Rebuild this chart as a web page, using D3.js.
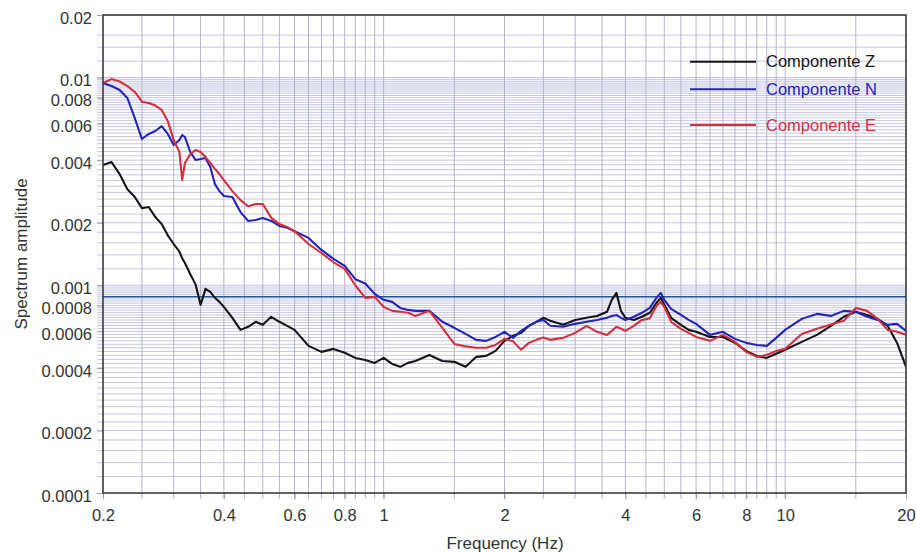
<!DOCTYPE html>
<html>
<head>
<meta charset="utf-8">
<script src="https://cdn.jsdelivr.net/npm/d3@7"></script>
<style>
  body { margin: 0; background: #fff; }
  text { font-family: "Liberation Sans", Arial, Helvetica, sans-serif; }
</style>
</head>
<body>
<svg id="chart" width="916" height="553"></svg>
<script>
// Frequencies (Hz) shared by the three components
const frequency = [0.2,0.21,0.22,0.23,0.24,0.25,0.26,0.27,0.28,0.29,0.3,0.31,0.315,0.32,0.33,0.34,0.35,0.36,0.37,0.38,0.39,0.4,
  0.42,0.44,0.46,0.48,0.5,0.525,0.55,0.575,0.6,0.65,0.7,0.75,0.8,0.85,0.9,0.95,1.0,1.05,1.1,1.15,1.2,
  1.3,1.4,1.5,1.6,1.7,1.8,1.9,2.0,2.1,2.2,2.3,2.4,2.5,2.6,2.8,3.0,3.2,3.4,3.6,3.7,3.8,3.9,4.0,
  4.2,4.4,4.6,4.8,4.9,5.0,5.2,5.5,5.75,6.0,6.5,7,7.5,8,8.5,9,9.5,10,11,12,13,14,15,16,17,18,19,20];

// Spectrum amplitude, vertical component
const componenteZ = [0.00379,0.00392,0.00343,0.00290,0.00266,0.00235,0.00238,0.00213,0.00197,0.00174,0.00158,0.00145,0.00135,0.00128,0.00113,0.00101,0.000805,0.000961,0.000929,0.00087,0.000832,0.000787,
  0.000697,0.00061,0.000631,0.000667,0.000645,0.000705,0.000667,0.000638,0.00061,0.000511,0.000478,0.000494,0.000473,0.000447,0.000437,0.000423,0.000447,0.000418,0.000405,0.000423,0.000432,
  0.000462,0.000432,0.000428,0.000405,0.000452,0.000457,0.000483,0.00054,0.000571,0.00059,0.000638,0.000667,0.000697,0.000674,0.000645,0.000681,0.000697,0.000712,0.000745,0.000851,0.000919,0.000753,0.000697,
  0.000681,0.000705,0.000737,0.000832,0.00087,0.000805,0.000697,0.000645,0.00061,0.000597,0.000564,0.000564,0.000528,0.000483,0.000457,0.000447,0.000468,0.000489,0.000534,0.000577,0.000638,0.000705,0.000745,0.00072,0.000689,0.000638,0.000528,0.000405];

// Spectrum amplitude, north component
const componenteN = [0.00941,0.0091,0.00871,0.00797,0.00638,0.00506,0.00535,0.00553,0.00584,0.00535,0.00473,0.005,0.00529,0.00517,0.00438,0.00401,0.00405,0.0041,0.00371,0.00307,0.00284,0.00269,
  0.00266,0.00225,0.00204,0.00206,0.00211,0.00204,0.00193,0.00189,0.00182,0.00169,0.00148,0.00134,0.00124,0.00107,0.00102,0.000909,0.000851,0.000832,0.000778,0.000761,0.000753,
  0.000753,0.000667,0.000624,0.000583,0.000546,0.00054,0.000564,0.000597,0.000558,0.000603,0.000638,0.000667,0.000681,0.000638,0.000631,0.000652,0.000667,0.000681,0.000697,0.000712,0.00072,0.000697,0.000681,
  0.000705,0.000737,0.000778,0.000879,0.000919,0.000851,0.00077,0.00072,0.000681,0.000652,0.000577,0.000597,0.000552,0.000528,0.000516,0.000511,0.000558,0.00061,0.000689,0.000728,0.000712,0.000753,0.000745,0.000705,0.000681,0.000645,0.000652,0.000603];

// Spectrum amplitude, east component
const componenteE = [0.00941,0.00983,0.00957,0.0091,0.00852,0.00765,0.00754,0.00733,0.00698,0.00617,0.005,0.00438,0.00321,0.00388,0.00428,0.00448,0.00438,0.00414,0.00388,0.00363,0.00343,0.00321,
  0.00284,0.00257,0.0024,0.00246,0.00246,0.00211,0.00197,0.00191,0.00182,0.00158,0.00143,0.00129,0.0012,0.001,0.00087,0.000879,0.000787,0.000753,0.000745,0.000737,0.000712,
  0.000753,0.000624,0.000522,0.000508,0.0005,0.0005,0.000516,0.000552,0.000537,0.000489,0.000528,0.000546,0.000561,0.000546,0.000558,0.00059,0.000638,0.000597,0.000577,0.000603,0.000631,0.000617,0.000603,
  0.000638,0.000681,0.000693,0.000805,0.000832,0.000787,0.000667,0.000617,0.00059,0.000564,0.00054,0.000577,0.000534,0.000478,0.000452,0.000462,0.000483,0.000494,0.000583,0.000617,0.000648,0.000674,0.000778,0.000753,0.000689,0.00061,0.000597,0.000577];

const referenceLevel = 0.00088;

const xTickValues = [0.2, 0.4, 0.6, 0.8, 1, 2, 4, 6, 8, 10, 20];
const yTickValues = [0.0001, 0.0002, 0.0004, 0.0006, 0.0008, 0.001, 0.002, 0.004, 0.006, 0.008, 0.01, 0.02];

const seriesNames = ["Componente Z", "Componente N", "Componente E"];
const seriesColors = ["#151515", "#2424b8", "#d3303e"];
const seriesValues = [componenteZ, componenteN, componenteE];

// Layout
const margin = { top: 15, right: 10, bottom: 60, left: 103 };
const W = 916, H = 553;
const width = W - margin.left - margin.right;
const height = 493 - margin.top;

const svg = d3.select("#chart");
const g = svg.append("g").attr("transform", `translate(${margin.left},${margin.top})`);

const x = d3.scaleLog().domain([0.2, 20]).range([0, width]);
const y = d3.scaleLog().domain([0.0001, 0.02]).range([height, 0]);

// Grid values: half-step lines per decade along x, 2%-of-decade lines along y
const round = v => +v.toPrecision(6);
const xGrid = [];
[0.1, 1, 10].forEach(dec => {
  for (let k = 10; k < 100; k += 5) {
    const v = round(dec * k / 10);
    if (v > 0.2 && v < 20) xGrid.push(v);
  }
});
const yGrid = [];
[0.0001, 0.001, 0.01].forEach(dec => {
  for (let k = 10; k < 100; k += 2) {
    const v = round(dec * k / 10);
    if (v > 0.0001 && v <= 0.0161) yGrid.push(v);
  }
});

const grid = g.append("g").attr("class", "grid");
grid.selectAll("line.h").data(yGrid).join("line")
  .attr("class", "h")
  .attr("x1", -6).attr("x2", width)
  .attr("y1", d => y(d)).attr("y2", d => y(d))
  .attr("stroke", "#c6c6e2").attr("stroke-width", 1);
grid.selectAll("line.v").data(xGrid).join("line")
  .attr("class", "v")
  .attr("y1", 0).attr("y2", height + 6)
  .attr("x1", d => x(d)).attr("x2", d => x(d))
  .attr("stroke", "#b4b4c8").attr("stroke-width", 1);

// Axes
const xAxis = d3.axisBottom(x).tickValues(xTickValues).tickFormat(d => String(d)).tickSize(6).tickPadding(10);
const yAxis = d3.axisLeft(y).tickValues(yTickValues).tickFormat(d => String(d)).tickSize(6).tickPadding(5);

const gx = g.append("g").attr("transform", `translate(0,${height})`).call(xAxis);
const gy = g.append("g").call(yAxis);
[gx, gy].forEach(a => {
  a.select(".domain").remove();
  a.selectAll(".tick line").attr("stroke", "#9a9aae");
  a.selectAll(".tick text").attr("fill", "#333").style("font-size", "16.5px");
});
gy.selectAll(".tick text").attr("dy", "0.5em");

// Reference level
g.append("line")
  .attr("x1", x(0.2)).attr("x2", x(20))
  .attr("y1", y(referenceLevel)).attr("y2", y(referenceLevel))
  .attr("stroke", "#1f5597").attr("stroke-width", 1.6);

// Spectra
g.append("clipPath").attr("id", "plot-clip")
  .append("rect").attr("width", width).attr("height", height);

const line = d3.line()
  .x((d, i) => x(frequency[i]))
  .y(d => y(d));

g.append("g").attr("clip-path", "url(#plot-clip)")
  .selectAll("path").data(seriesValues).join("path")
  .attr("d", d => line(d))
  .attr("fill", "none")
  .attr("stroke", (d, i) => seriesColors[i])
  .attr("stroke-width", 2.1)
  .attr("stroke-linejoin", "round");

// Frame
g.append("rect")
  .attr("width", width).attr("height", height)
  .attr("fill", "none").attr("stroke", "#3a3a3a").attr("stroke-width", 1.6);

// Legend
const legendY = [61.7, 89.3, 125];
const legend = svg.append("g");
seriesNames.forEach((name, i) => {
  legend.append("line")
    .attr("x1", 690).attr("x2", 756)
    .attr("y1", legendY[i]).attr("y2", legendY[i])
    .attr("stroke", seriesColors[i]).attr("stroke-width", 2);
  legend.append("text")
    .attr("x", 766).attr("y", legendY[i]).attr("dy", "0.35em")
    .attr("fill", seriesColors[i])
    .style("font-size", "16.5px")
    .text(name);
});

// Axis titles
svg.append("text")
  .attr("x", 505).attr("y", 549)
  .attr("text-anchor", "middle").attr("fill", "#333")
  .style("font-size", "17px")
  .text("Frequency (Hz)");

svg.append("text")
  .attr("transform", "translate(27,254) rotate(-90)")
  .attr("text-anchor", "middle").attr("fill", "#333")
  .style("font-size", "17px")
  .text("Spectrum amplitude");
</script>
</body>
</html>
